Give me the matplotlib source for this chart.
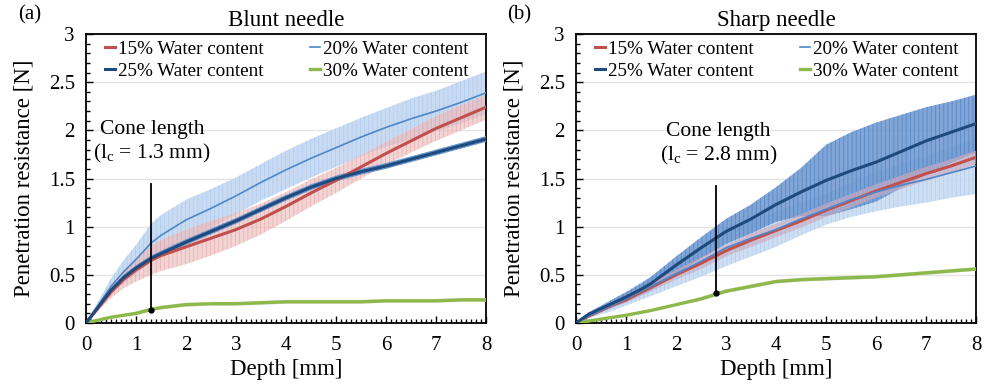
import matplotlib
matplotlib.use("Agg")
import matplotlib.pyplot as plt
from matplotlib.ticker import MultipleLocator
import numpy as np

plt.rcParams['font.family'] = ['Liberation Serif', 'DejaVu Serif']
plt.rcParams['mathtext.fontset'] = 'custom'
plt.rcParams['mathtext.rm'] = 'Liberation Serif'
plt.rcParams['hatch.linewidth'] = 0.6

# ---------------- data ----------------
depth = [0, 0.25, 0.5, 0.75, 1.0, 1.3, 1.5, 2.0, 2.5, 3.0, 3.5, 4.0, 4.5, 5.0, 5.5, 6.0, 6.5, 7.0, 7.5, 8.0]

# Blunt needle (a)
blunt_15 = [0, 0.16, 0.32, 0.45, 0.55, 0.65, 0.70, 0.79, 0.88, 0.97, 1.08, 1.21, 1.35, 1.48, 1.62, 1.76, 1.89, 2.02, 2.13, 2.24]
blunt_15_err = [0, 0.03, 0.06, 0.09, 0.12, 0.15, 0.16, 0.18, 0.18, 0.17, 0.16, 0.15, 0.14, 0.13, 0.12, 0.12, 0.12, 0.13, 0.13, 0.13]
blunt_20 = [0, 0.19, 0.38, 0.53, 0.66, 0.83, 0.91, 1.07, 1.19, 1.32, 1.46, 1.59, 1.71, 1.82, 1.93, 2.03, 2.12, 2.20, 2.29, 2.39]
blunt_20_err = [0, 0.04, 0.08, 0.12, 0.15, 0.20, 0.21, 0.21, 0.20, 0.19, 0.19, 0.20, 0.20, 0.20, 0.20, 0.20, 0.21, 0.21, 0.22, 0.22]
blunt_25 = [0, 0.17, 0.34, 0.47, 0.57, 0.67, 0.72, 0.84, 0.95, 1.06, 1.18, 1.30, 1.41, 1.50, 1.57, 1.63, 1.70, 1.77, 1.84, 1.91]
blunt_25_err = [0, 0.02, 0.02, 0.03, 0.03, 0.03, 0.03, 0.03, 0.03, 0.03, 0.03, 0.03, 0.03, 0.03, 0.03, 0.03, 0.03, 0.03, 0.03, 0.03]
blunt_30 = [0, 0.03, 0.06, 0.08, 0.10, 0.14, 0.16, 0.19, 0.20, 0.20, 0.21, 0.22, 0.22, 0.22, 0.22, 0.23, 0.23, 0.23, 0.24, 0.24]
blunt_30_err = [0, 0.01, 0.01, 0.01, 0.02, 0.02, 0.02, 0.02, 0.02, 0.02, 0.02, 0.02, 0.02, 0.02, 0.02, 0.02, 0.02, 0.02, 0.02, 0.02]

# Sharp needle (b)
sharp_15 = [0, 0.07, 0.13, 0.19, 0.24, 0.32, 0.37, 0.50, 0.62, 0.75, 0.86, 0.96, 1.06, 1.17, 1.27, 1.37, 1.46, 1.55, 1.63, 1.72]
sharp_15_err = [0, 0.01, 0.02, 0.03, 0.03, 0.04, 0.04, 0.05, 0.06, 0.06, 0.07, 0.07, 0.07, 0.07, 0.07, 0.07, 0.07, 0.07, 0.07, 0.07]
sharp_20 = [0, 0.07, 0.13, 0.19, 0.25, 0.33, 0.38, 0.51, 0.64, 0.78, 0.88, 0.97, 1.08, 1.18, 1.28, 1.36, 1.43, 1.49, 1.56, 1.63]
sharp_20_err = [0, 0.02, 0.04, 0.06, 0.07, 0.09, 0.10, 0.13, 0.16, 0.19, 0.19, 0.18, 0.17, 0.16, 0.18, 0.20, 0.22, 0.24, 0.26, 0.29]
sharp_25 = [0, 0.09, 0.15, 0.21, 0.27, 0.35, 0.41, 0.60, 0.78, 0.95, 1.08, 1.23, 1.36, 1.48, 1.58, 1.67, 1.78, 1.89, 1.98, 2.07]
sharp_25_err = [0, 0.02, 0.03, 0.04, 0.05, 0.06, 0.07, 0.09, 0.11, 0.13, 0.15, 0.18, 0.25, 0.37, 0.40, 0.41, 0.38, 0.35, 0.32, 0.30]
sharp_30 = [0, 0.02, 0.04, 0.06, 0.08, 0.11, 0.13, 0.19, 0.25, 0.33, 0.38, 0.43, 0.45, 0.46, 0.47, 0.48, 0.50, 0.52, 0.54, 0.56]
sharp_30_err = [0, 0.01, 0.01, 0.01, 0.01, 0.01, 0.01, 0.01, 0.02, 0.02, 0.02, 0.02, 0.02, 0.02, 0.02, 0.02, 0.02, 0.02, 0.02, 0.02]

labels = ['15% Water content', '20% Water content', '25% Water content', '30% Water content']
cone_blunt = 1.3
cone_blunt_y = [0.14, 1.44]
cone_sharp = 2.8
cone_sharp_y = [0.31, 1.42]

# ---------------- styles ----------------
C_RED = '#C0504D'
C_LB = '#4F86C6'
C_DB = '#1F4A7E'
C_GR = '#8DB84A'

fig = plt.figure(figsize=(9.87, 3.91), dpi=100)
ax1 = fig.add_axes([86/987, 1-323/391, 400/987, 289/391])
ax2 = fig.add_axes([576/987, 1-323/391, 400/987, 289/391])


def band(ax, x, y, e, face, hatchc, alpha=1.0, z=1):
    x = np.asarray(x); y = np.asarray(y); e = np.asarray(e)
    ax.fill_between(x, y - e, y + e, facecolor=face, edgecolor=hatchc, hatch='||||',
                    linewidth=0, alpha=alpha, zorder=z)


def panel(ax, d15, e15, d20, e20, d25, e25, d30, e30, sharp):
    if sharp:
        band(ax, depth, d20, e20, '#C9DCF2', '#B3CDEC', alpha=0.9, z=1)
        band(ax, depth, d25, e25, '#6A96CF', '#5584C3', alpha=0.85, z=2)
        band(ax, depth, d15, e15, '#C8A8C0', '#D9B3BE', alpha=0.6, z=3)
        band(ax, depth, d30, e30, '#C9D5B8', '#C9D5B8', alpha=0.7, z=3)
    else:
        band(ax, depth, d20, e20, '#C3D8F1', '#AFCBEC', alpha=0.9, z=1)
        band(ax, depth, d15, e15, '#EDBDBD', '#E3A3A3', alpha=0.65, z=2)
        band(ax, depth, d25, e25, '#5C8DCB', '#5C8DCB', alpha=0.9, z=3)
        band(ax, depth, d30, e30, '#D2D8C8', '#D2D8C8', alpha=0.7, z=3)
    h15, = ax.plot(depth, d15, color=C_RED, lw=2.2, zorder=5)
    h20, = ax.plot(depth, d20, color=C_LB, lw=1.2, zorder=5)
    h25, = ax.plot(depth, d25, color=C_DB, lw=2.2, zorder=6)
    h30, = ax.plot(depth, d30, color=C_GR, lw=2.4, zorder=5)

    ax.set_xlim(0, 8)
    ax.set_ylim(0, 3)
    ax.xaxis.set_major_locator(MultipleLocator(1))
    ax.xaxis.set_minor_locator(MultipleLocator(0.1))
    ax.yaxis.set_major_locator(MultipleLocator(0.5))
    ax.yaxis.set_minor_locator(MultipleLocator(0.1))
    ax.tick_params(which='both', direction='in', labelsize=15, top=False, right=False)
    ax.tick_params(which='major', length=5, width=1)
    ax.tick_params(which='minor', length=3, width=1)
    ax.tick_params(axis='x', which='major', pad=9)
    ax.tick_params(axis='y', which='major', pad=8)
    ax.yaxis.set_major_formatter(plt.FuncFormatter(lambda v, p: ('%g' % v)))
    ax.grid(axis='y', which='major', color='#E4E4E4', lw=1.0, zorder=0)
    ax.set_axisbelow(True)
    for s in ax.spines.values():
        s.set_linewidth(1.3)
        s.set_color('black')
    ax.set_xlabel('Depth [mm]', fontsize=16.5, labelpad=3)
    ax.set_ylabel('Penetration resistance [N]', fontsize=16.5, labelpad=10)

    leg = ax.legend([h15, h25, h20, h30], [labels[0], labels[2], labels[1], labels[3]],
                    ncol=2, loc='upper left', bbox_to_anchor=(0.03, 1.0),
                    frameon=False, fontsize=13.8, handlelength=0.55, handletextpad=0.15,
                    columnspacing=2.4, labelspacing=0.22, borderaxespad=0.15, borderpad=0.2)
    return leg


panel(ax1, blunt_15, blunt_15_err, blunt_20, blunt_20_err, blunt_25, blunt_25_err,
      blunt_30, blunt_30_err, sharp=False)
panel(ax2, sharp_15, sharp_15_err, sharp_20, sharp_20_err, sharp_25, sharp_25_err,
      sharp_30, sharp_30_err, sharp=True)

ax1.set_title('Blunt needle', fontsize=16.5, pad=6)
ax2.set_title('Sharp needle', fontsize=16.5, pad=6)

# cone length annotations
for ax, xc, ys, tx in [(ax1, cone_blunt, cone_blunt_y, 1.32), (ax2, cone_sharp, cone_sharp_y, 2.85)]:
    ax.plot([xc, xc], ys, color='black', lw=1.3, zorder=8)
    ax.plot([xc], [ys[0]], 'o', color='black', ms=3.5, zorder=9)
    ax.text(tx, ys[1] + 0.57, 'Cone length', ha='center', va='center', fontsize=15.5, zorder=9)
    ax.text(tx, ys[1] + 0.32, r'(l$_\mathrm{c}$ = %g mm)' % xc, ha='center', va='center',
            fontsize=15.5, zorder=9)

fig.text(18/987, 1-15/391, '(a)', fontsize=15, ha='left', va='center')
fig.text(507/987, 1-15/391, '(b)', fontsize=15, ha='left', va='center')

fig.savefig('out.png', dpi=100)
